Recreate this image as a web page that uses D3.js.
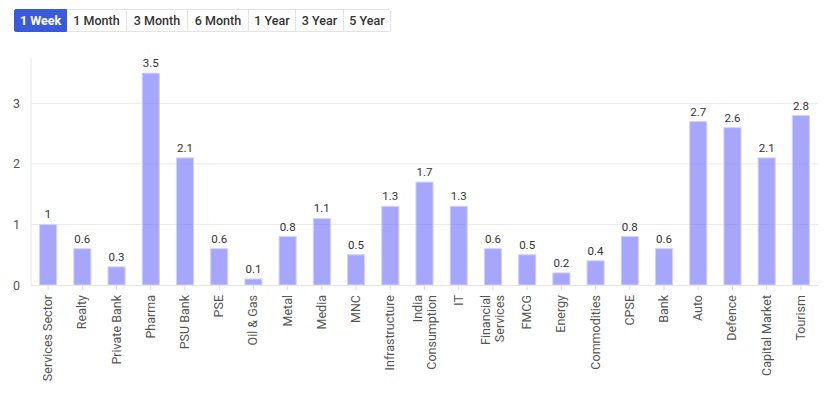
<!DOCTYPE html>
<html>
<head>
<meta charset="utf-8">
<script src="https://cdn.jsdelivr.net/npm/d3@7"></script>
<style>
  body { margin: 0; background: #fff; font-family: Roboto, sans-serif; }
  #chart { position: relative; width: 831px; height: 398px; }
  .btns { position: absolute; left: 14px; top: 9px; display: flex; }
  .btns div {
    height: 23px; line-height: 21px; padding: 0; font-size: 12.5px; font-weight: 500;
    color: #333; border: 1px solid #e3e3e3; border-left: none; box-sizing: border-box; text-align: center;
  }
  .btns div:first-child { border-left: 1px solid #e3e3e3; border-radius: 2px 0 0 2px; }
  .btns div:last-child { border-radius: 0 2px 2px 0; }
  .btns div.active { background: #3a5bd9; color: #fff; font-weight: 700; border-color: #3a5bd9; }
</style>
</head>
<body>
<div id="chart"></div>
<script>
const periods = ['1 Week', '1 Month', '3 Month', '6 Month', '1 Year', '3 Year', '5 Year']
const sectors = ['Services Sector', 'Realty', 'Private Bank', 'Pharma', 'PSU Bank', 'PSE', 'Oil & Gas',
  'Metal', 'Media', 'MNC', 'Infrastructure', 'India Consumption', 'IT', 'Financial Services', 'FMCG',
  'Energy', 'Commodities', 'CPSE', 'Bank', 'Auto', 'Defence', 'Capital Market', 'Tourism']
const returns = [1, 0.6, 0.3, 3.5, 2.1, 0.6, 0.1, 0.8, 1.1, 0.5, 1.3, 1.7, 1.3, 0.6, 0.5, 0.2, 0.4, 0.8, 0.6, 2.7, 2.6, 2.1, 2.8]
const yTicks = [0, 1, 2, 3]

const margin = { top: 58, right: 13, bottom: 113, left: 31 }
const width = 831 - margin.left - margin.right
const height = 398 - margin.top - margin.bottom

const container = d3.select('#chart')

// period buttons
const btnWidths = [53, 60, 61, 61, 47, 48, 47]
container.append('div').attr('class', 'btns')
  .selectAll('div').data(periods).join('div')
  .attr('class', (d, i) => i === 0 ? 'active' : null)
  .style('width', (d, i) => btnWidths[i] + 'px')
  .text(d => d)

const svg = container.append('svg')
  .attr('width', 831).attr('height', 398)
  .style('position', 'absolute').style('top', 0).style('left', 0)
  .append('g')
  .attr('transform', 'translate(' + margin.left + ',' + margin.top + ')')

const x = d3.scaleBand().domain(sectors).range([0, width]).paddingInner(0.5).paddingOuter(0.25)
const y = d3.scaleLinear().domain([0, 3.75]).range([height, 0])

// gridlines
svg.append('g').selectAll('line').data(yTicks.slice(1)).join('line')
  .attr('x1', 0).attr('x2', width)
  .attr('y1', d => y(d)).attr('y2', d => y(d))
  .attr('stroke', '#ebebeb')

// y axis line
svg.append('line').attr('x1', 0).attr('x2', 0).attr('y1', 0).attr('y2', height)
  .attr('stroke', '#e6e6e6')

const yAxis = d3.axisLeft(y).tickValues(yTicks).tickFormat(d3.format('d')).tickSize(0).tickPadding(11)
svg.append('g').call(yAxis)
  .call(g => g.select('.domain').remove())
  .selectAll('text').attr('font-size', 12.5).attr('fill', '#555').attr('font-family', 'Roboto')

// bars
svg.selectAll('.bar').data(sectors).join('rect')
  .attr('class', 'bar')
  .attr('x', d => x(d))
  .attr('width', x.bandwidth())
  .attr('y', (d, i) => y(returns[i]))
  .attr('height', (d, i) => height - y(returns[i]))
  .attr('fill', '#6b6bfa').attr('fill-opacity', 0.6)
  .attr('stroke', '#d2d2ff').attr('stroke-width', 1)

// value labels
svg.selectAll('.val').data(sectors).join('text')
  .attr('class', 'val')
  .attr('x', d => x(d) + x.bandwidth() / 2)
  .attr('y', (d, i) => y(returns[i]) - 6)
  .attr('text-anchor', 'middle')
  .attr('font-size', 11.5).attr('fill', '#333')
  .text((d, i) => returns[i])

// x axis
const xAxis = d3.axisBottom(x).tickSize(5).tickPadding(5)
const gx = svg.append('g').attr('transform', 'translate(0,' + height + ')').call(xAxis)
gx.select('.domain').attr('stroke', '#e6e6e6').attr('d', 'M0,0.5H' + width)
gx.selectAll('.tick line').attr('stroke', '#ddd')
gx.selectAll('.tick text').each(function (d) {
  const t = d3.select(this).text(null)
    .attr('font-size', 12.5).attr('fill', '#555').attr('font-family', 'Roboto')
    .attr('text-anchor', 'end').attr('dy', null).attr('y', 0)
    .attr('transform', 'translate(0,10) rotate(-90)')
  const lines = d === 'India Consumption' ? ['India', 'Consumption']
    : d === 'Financial Services' ? ['Financial', 'Services'] : [d]
  const off = (lines.length - 1) * 7
  lines.forEach((l, i) => {
    t.append('tspan').attr('x', 0).attr('y', 4 - off + i * 14).text(l)
  })
})
</script>
</body>
</html>
